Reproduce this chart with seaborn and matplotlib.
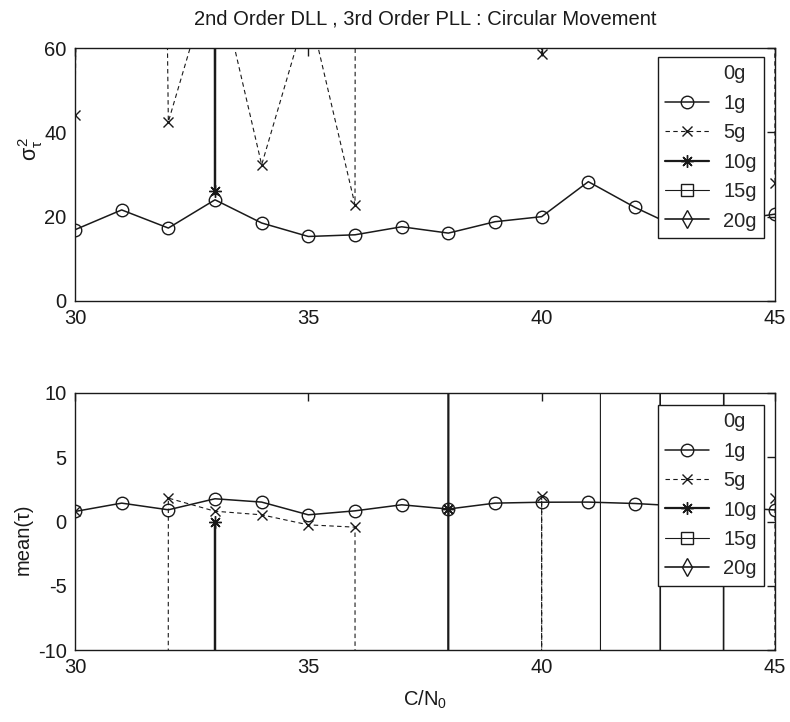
import numpy as np
import pandas as pd
import matplotlib
matplotlib.use("Agg")
import matplotlib.pyplot as plt
import seaborn as sns

# ---------------- data ----------------
cn0 = [30, 31, 32, 33, 34, 35, 36, 37, 38, 39, 40, 41, 42, 43, 44, 45]
labels = ["0g", "1g", "5g", "10g", "15g", "20g"]
OFF = 1.0e4  # diverged (off-scale) values

# variance of tau (top panel)
var_0g = [np.nan] * 16
var_1g = [16.9, 21.6, 17.3, 24.0, 18.5, 15.3, 15.7, 17.6, 16.1, 18.8, 20.0, 28.3, 22.2, 17.0, 19.0, 20.6]
var_5g = [44.2, 1000, 42.5, 80, 32.3, 70, 22.8, OFF, OFF, OFF, 58.5, OFF, OFF, OFF, OFF, 28.0]
var_10g = [OFF, OFF, OFF, 26.0, OFF, OFF, OFF, OFF, OFF, OFF, OFF, OFF, OFF, OFF, OFF, OFF]
var_15g = [OFF] * 16
var_20g = [OFF] * 16

# mean of tau (bottom panel)
mean_0g = [np.nan] * 16
mean_1g = [0.78, 1.43, 0.91, 1.77, 1.51, 0.52, 0.83, 1.30, 0.97, 1.43, 1.50, 1.51, 1.40, 1.20, 1.10, 0.90]
mean_5g = [0.80, -OFF, 1.82, 0.80, 0.52, -0.26, -0.44, -OFF, -OFF, -OFF, 1.95, -OFF, -OFF, -OFF, -OFF, 1.82]
mean_10g = [-OFF, -OFF, -OFF, 0.0, -OFF, -OFF, -OFF, -OFF, 1.0, OFF, OFF, OFF, OFF, OFF, OFF, OFF]
mean_15g = [OFF, OFF, OFF, OFF, OFF, OFF, OFF, OFF, OFF, OFF, OFF, 3500, -OFF, -OFF, -OFF, -OFF]
mean_20g = [OFF, OFF, OFF, OFF, OFF, OFF, OFF, OFF, OFF, OFF, OFF, OFF, 5400, -4600, 511, OFF]

title = "2nd Order DLL , 3rd Order PLL : Circular Movement"
xticks = [30, 35, 40, 45]
yticks_top = [0, 20, 40, 60]
yticks_bot = [-10, -5, 0, 5, 10]

# ---------------- style ----------------
sns.set_theme(style="white")
plt.rcParams["font.family"] = ["Liberation Sans", "DejaVu Sans"]
plt.rcParams["mathtext.fontset"] = "custom"
plt.rcParams["mathtext.rm"] = "Liberation Sans"
plt.rcParams["mathtext.it"] = "Liberation Sans"
plt.rcParams["mathtext.bf"] = "Liberation Sans:bold"
plt.rcParams["axes.unicode_minus"] = False
FS = 14.5

styles = {
    "0g": dict(linestyle="none", marker=None, linewidth=1.0),
    "1g": dict(linestyle="-", marker="o", markersize=9, linewidth=1.1),
    "5g": dict(linestyle=(0, (4, 3)), marker="x", markersize=7, linewidth=0.8),
    "10g": dict(linestyle="-", marker=(8, 2, 0), markersize=9, linewidth=1.6),
    "15g": dict(linestyle="-", marker="s", markersize=8, linewidth=0.8),
    "20g": dict(linestyle="-", marker="d", markersize=9, linewidth=1.2),
}

fig = plt.figure(figsize=(7.9, 7.22), dpi=100)
ax1 = fig.add_axes([75 / 790, 1 - 301 / 722, 700 / 790, 253 / 722])
ax2 = fig.add_axes([75 / 790, 1 - 650 / 722, 700 / 790, 257 / 722])

top_series = [var_0g, var_1g, var_5g, var_10g, var_15g, var_20g]
bot_series = [mean_0g, mean_1g, mean_5g, mean_10g, mean_15g, mean_20g]


def draw(ax, series):
    for lab, ys in zip(labels, series):
        st = styles[lab]
        if lab == "0g":
            ax.plot(cn0, ys, color="k", label=lab, **st)
            continue
        sns.lineplot(x=cn0, y=ys, ax=ax, color="k", estimator=None, sort=False,
                     markerfacecolor="none", markeredgecolor="k",
                     markeredgewidth=1.0, label=lab, **st)


for ax, series, yt, ylim in [(ax1, top_series, yticks_top, (0, 60)),
                             (ax2, bot_series, yticks_bot, (-10, 10))]:
    draw(ax, series)
    ax.set_xlim(30, 45)
    ax.set_ylim(*ylim)
    ax.set_xticks(xticks)
    ax.set_yticks(yt)
    ax.tick_params(direction="in", length=6, width=1.0, top=True, right=True,
                   labelsize=FS, colors="k", pad=6)
    for sp in ax.spines.values():
        sp.set_color("k")
        sp.set_linewidth(1.0)
        sp.set_visible(True)
    ax.set_facecolor("white")
    h, l = ax.get_legend_handles_labels()
    leg_top = 0.964 if ax is ax1 else 0.953
    leg = ax.legend(h, l, loc="upper right", bbox_to_anchor=(0.984, leg_top),
                    borderaxespad=0, fontsize=FS, frameon=True, fancybox=False,
                    framealpha=1, edgecolor="k", handlelength=2.2,
                    handletextpad=0.7, labelspacing=0.52, borderpad=0.35)
    leg.get_frame().set_linewidth(1.0)

ax1.set_title(title, fontsize=FS, pad=17, color="k")
ax1.set_xlabel("")
ax1.set_ylabel(r"$\sigma^2_\tau$", fontsize=FS + 1, color="k")
ax1.yaxis.set_label_coords(-0.043, 0.6)
ax2.set_ylabel("mean(τ)", fontsize=FS, color="k")
ax2.yaxis.set_label_coords(-0.06, 0.43)
ax2.set_xlabel(r"C/N$_0$", fontsize=FS, color="k", labelpad=8)

fig.savefig("out.png", dpi=100, facecolor="white")
